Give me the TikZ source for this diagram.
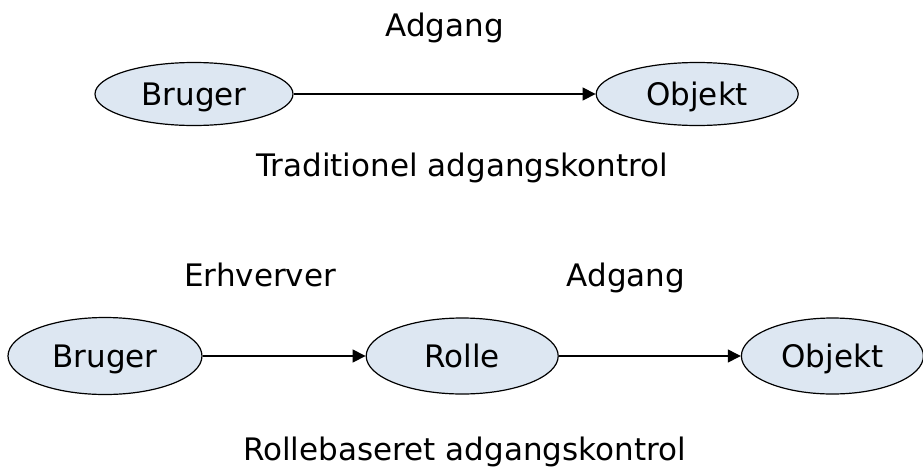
\documentclass[tikz,border=0pt]{standalone}
\usepackage{fontspec}
\setmainfont{DejaVu Sans}
\usepackage{tikz}
\usetikzlibrary{shapes.geometric, arrows.meta, positioning}
\definecolor{rolefill}{RGB}{221, 231, 242}

\begin{document}
\begin{tikzpicture}[
    x=1pt, y=-1pt,
    role/.style={draw, ellipse, fill=rolefill, line width=1.2pt, inner sep=0pt, text depth=0pt, font=\fontsize{31}{37}\selectfont},
    lbl/.style={inner sep=0pt, text depth=0pt, font=\fontsize{31}{37}\selectfont},
    arrow/.style={-{Triangle[length=13pt, width=13pt]}, line width=1.2pt}
]
    \useasboundingbox (0,0) rectangle (923,466);

    % Traditionel
    \node[role, minimum width=198pt, minimum height=63pt] (bru1) at (194,94) {Bruger};
    \node[role, minimum width=202pt, minimum height=63pt, right=302pt of bru1] (obj1) {Objekt};
    \node[lbl, anchor=base] (trad) at (462,176) {Traditionel adgangskontrol};

    % Rollebaseret
    \node[role, minimum width=194pt, minimum height=77pt] (bru2) at (105,356) {Bruger};
    \node[role, minimum width=192pt, minimum height=76pt, right=163pt of bru2] (rol) {Rolle};
    \node[role, minimum width=182pt, minimum height=76pt, right=182pt of rol] (obj2) {Objekt};
    \node[lbl, anchor=base west] (rbac) at (243,460) {Rollebaseret adgangskontrol};

    % Arrows
    \draw[arrow] (bru1) -- (obj1) node[lbl, midway, above=57pt] (adg1) {Adgang};
    \draw[arrow] (bru2) -- (rol) node[lbl, midway, above=69pt, xshift=-24pt] (erh) {Erhverver};
    \draw[arrow] (rol) -- (obj2) node[lbl, midway, above=69pt, xshift=-24pt] (adg2) {Adgang};
\end{tikzpicture}
\end{document}
